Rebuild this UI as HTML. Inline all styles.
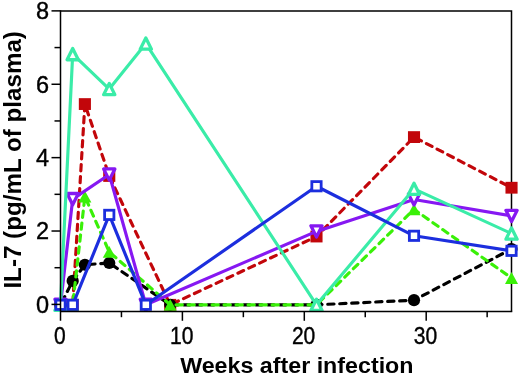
<!DOCTYPE html>
<html><head><meta charset="utf-8"><title>IL-7</title>
<style>html,body{margin:0;padding:0;background:#fff;}body{width:520px;height:377px;overflow:hidden;}svg{display:block;}svg{will-change:transform;}text{font-family:"Liberation Sans",sans-serif;fill:#000;}</style>
</head><body>
<svg width="520" height="377" viewBox="0 0 520 377">
<rect x="0" y="0" width="520" height="377" fill="#fff"/>
<path d="M60.5 10.9 H511.5 V311.5" stroke="#000" stroke-width="1.5" fill="none"/>
<g font-size="23.5" text-anchor="end" stroke="#000" stroke-width="0.4">
<text transform="translate(49.0,312.7) scale(1.0,1)">0</text>
<text transform="translate(49.0,239.32) scale(1.0,1)">2</text>
<text transform="translate(49.0,165.94) scale(1.0,1)">4</text>
<text transform="translate(49.0,92.56) scale(1.0,1)">6</text>
<text transform="translate(49.0,19.18) scale(1.0,1)">8</text>
</g>
<g font-size="23.4" text-anchor="middle" stroke="#000" stroke-width="0.4">
<text transform="translate(59.8,343.7) scale(0.9,1)">0</text>
<text transform="translate(181.7,343.7) scale(0.9,1)">10</text>
<text transform="translate(303.6,343.7) scale(0.9,1)">20</text>
<text transform="translate(425.5,343.7) scale(0.9,1)">30</text>
</g>
<text x="180.2" y="373.2" font-size="22.5" font-weight="bold" textLength="233.3" lengthAdjust="spacingAndGlyphs">Weeks after infection</text>
<text transform="translate(20.6,288.6) rotate(-90)" font-size="23.0" font-weight="bold" textLength="257.5" lengthAdjust="spacingAndGlyphs">IL-7 (pg/mL of plasma)</text>
<g><polyline points="60.5,304.8 72.69,304.8 84.88,104.07 109.26,175.98 170.21,304.8 316.49,236.52 414.01,137.09 511.53,187.73" fill="none" stroke="#C2060A" stroke-width="3.15" stroke-linejoin="round" stroke-dasharray="6.3 5.7" stroke-dashoffset="9.57" stroke-linecap="round"/>
<rect x="54.45" y="298.9" width="12.1" height="11.8" fill="#C2060A"/>
<rect x="66.64" y="298.9" width="12.1" height="11.8" fill="#C2060A"/>
<rect x="78.83" y="98.17" width="12.1" height="11.8" fill="#C2060A"/>
<rect x="103.21" y="170.08" width="12.1" height="11.8" fill="#C2060A"/>
<rect x="164.16" y="298.9" width="12.1" height="11.8" fill="#C2060A"/>
<rect x="310.44" y="230.62" width="12.1" height="11.8" fill="#C2060A"/>
<rect x="407.96" y="131.19" width="12.1" height="11.8" fill="#C2060A"/>
<rect x="505.48" y="181.83" width="12.1" height="11.8" fill="#C2060A"/>
</g>
<g><polyline points="60.5,304.8 72.69,280.92 84.88,264.77 109.26,262.94 170.21,304.8 316.49,304.8 414.01,300.18 511.53,249" fill="none" stroke="#000000" stroke-width="3.15" stroke-linejoin="round" stroke-dasharray="6.3 5.7" stroke-dashoffset="9.02" stroke-linecap="round"/>
<circle cx="60.5" cy="304.8" r="6.1" fill="#000000"/>
<circle cx="72.69" cy="280.92" r="6.1" fill="#000000"/>
<circle cx="84.88" cy="264.77" r="6.1" fill="#000000"/>
<circle cx="109.26" cy="262.94" r="6.1" fill="#000000"/>
<circle cx="170.21" cy="304.8" r="6.1" fill="#000000"/>
<circle cx="316.49" cy="304.8" r="6.1" fill="#000000"/>
<circle cx="414.01" cy="300.18" r="6.1" fill="#000000"/>
<circle cx="511.53" cy="249" r="6.1" fill="#000000"/>
</g>
<g><polyline points="60.5,304.8 72.69,304.8 84.88,196.53 109.26,251.93 170.21,304.8 316.49,304.8 414.01,209.37 511.53,277.98" fill="none" stroke="#3AF008" stroke-width="3.15" stroke-linejoin="round" stroke-dasharray="6.3 5.7" stroke-dashoffset="7.81" stroke-linecap="round"/>
<polygon points="60.5,298.9 67,310.7 54,310.7" fill="#3AF008"/>
<polygon points="72.69,298.9 79.19,310.7 66.19,310.7" fill="#3AF008"/>
<polygon points="84.88,190.63 91.38,202.43 78.38,202.43" fill="#3AF008"/>
<polygon points="109.26,246.03 115.76,257.83 102.76,257.83" fill="#3AF008"/>
<polygon points="170.21,298.9 176.71,310.7 163.71,310.7" fill="#3AF008"/>
<polygon points="316.49,298.9 322.99,310.7 309.99,310.7" fill="#3AF008"/>
<polygon points="414.01,203.47 420.51,215.27 407.51,215.27" fill="#3AF008"/>
<polygon points="511.53,272.08 518.03,283.88 505.03,283.88" fill="#3AF008"/>
</g>
<g><polyline points="60.5,304.8 72.69,199.1 109.26,174.52 145.83,304.8 316.49,231.39 414.01,199.47 511.53,215.98" fill="none" stroke="#8618F2" stroke-width="3.15" stroke-linejoin="round"/>
<polygon points="54.9,299.2 66.1,299.2 60.5,310.4" fill="#fff" stroke="#8618F2" stroke-width="3.3" stroke-linejoin="round"/>
<polygon points="67.09,193.5 78.29,193.5 72.69,204.7" fill="#fff" stroke="#8618F2" stroke-width="3.3" stroke-linejoin="round"/>
<polygon points="103.66,168.92 114.86,168.92 109.26,180.12" fill="#fff" stroke="#8618F2" stroke-width="3.3" stroke-linejoin="round"/>
<polygon points="140.23,299.2 151.43,299.2 145.83,310.4" fill="#fff" stroke="#8618F2" stroke-width="3.3" stroke-linejoin="round"/>
<polygon points="310.89,225.79 322.09,225.79 316.49,236.99" fill="#fff" stroke="#8618F2" stroke-width="3.3" stroke-linejoin="round"/>
<polygon points="408.41,193.87 419.61,193.87 414.01,205.07" fill="#fff" stroke="#8618F2" stroke-width="3.3" stroke-linejoin="round"/>
<polygon points="505.93,210.38 517.13,210.38 511.53,221.58" fill="#fff" stroke="#8618F2" stroke-width="3.3" stroke-linejoin="round"/>
</g>
<g><polyline points="60.5,304.8 72.69,54.17 109.26,89.03 145.83,43.53 316.49,304.8 414.01,188.83 511.53,233.59" fill="none" stroke="#3AECA8" stroke-width="3.15" stroke-linejoin="round"/>
<polygon points="60.5,299.2 66.1,310.4 54.9,310.4" fill="#fff" stroke="#3AECA8" stroke-width="3.3" stroke-linejoin="round"/>
<polygon points="72.69,48.57 78.29,59.77 67.09,59.77" fill="#fff" stroke="#3AECA8" stroke-width="3.3" stroke-linejoin="round"/>
<polygon points="109.26,83.43 114.86,94.63 103.66,94.63" fill="#fff" stroke="#3AECA8" stroke-width="3.3" stroke-linejoin="round"/>
<polygon points="145.83,37.93 151.43,49.13 140.23,49.13" fill="#fff" stroke="#3AECA8" stroke-width="3.3" stroke-linejoin="round"/>
<polygon points="316.49,299.2 322.09,310.4 310.89,310.4" fill="#fff" stroke="#3AECA8" stroke-width="3.3" stroke-linejoin="round"/>
<polygon points="414.01,183.23 419.61,194.43 408.41,194.43" fill="#fff" stroke="#3AECA8" stroke-width="3.3" stroke-linejoin="round"/>
<polygon points="511.53,227.99 517.13,239.19 505.93,239.19" fill="#fff" stroke="#3AECA8" stroke-width="3.3" stroke-linejoin="round"/>
</g>
<g><polyline points="60.5,304.8 72.69,304.8 109.26,214.88 145.83,304.8 316.49,186.26 414.01,235.79 511.53,250.83" fill="none" stroke="#1C2EDE" stroke-width="3.15" stroke-linejoin="round"/>
<rect x="54.45" y="298.75" width="12.1" height="12.1" fill="#1C2EDE"/><rect x="57.25" y="301.55" width="6.5" height="6.5" fill="#fff"/>
<rect x="66.64" y="298.75" width="12.1" height="12.1" fill="#1C2EDE"/><rect x="69.44" y="301.55" width="6.5" height="6.5" fill="#fff"/>
<rect x="103.21" y="208.83" width="12.1" height="12.1" fill="#1C2EDE"/><rect x="106.01" y="211.63" width="6.5" height="6.5" fill="#fff"/>
<rect x="139.78" y="298.75" width="12.1" height="12.1" fill="#1C2EDE"/><rect x="142.58" y="301.55" width="6.5" height="6.5" fill="#fff"/>
<rect x="310.44" y="180.21" width="12.1" height="12.1" fill="#1C2EDE"/><rect x="313.24" y="183.01" width="6.5" height="6.5" fill="#fff"/>
<rect x="407.96" y="229.74" width="12.1" height="12.1" fill="#1C2EDE"/><rect x="410.76" y="232.54" width="6.5" height="6.5" fill="#fff"/>
<rect x="505.48" y="244.78" width="12.1" height="12.1" fill="#1C2EDE"/><rect x="508.28" y="247.58" width="6.5" height="6.5" fill="#fff"/>
</g>
<g stroke="#000" stroke-width="1.5" fill="none" stroke-linecap="butt">
<path d="M60.5 10.15 V320.8 M59.75 311.5 H512.25"/>
<line x1="51.5" y1="304.4" x2="60.5" y2="304.4"/>
<line x1="54.5" y1="267.71" x2="60.5" y2="267.71"/>
<line x1="51.5" y1="231.02" x2="60.5" y2="231.02"/>
<line x1="54.5" y1="194.33" x2="60.5" y2="194.33"/>
<line x1="51.5" y1="157.64" x2="60.5" y2="157.64"/>
<line x1="54.5" y1="120.95" x2="60.5" y2="120.95"/>
<line x1="51.5" y1="84.26" x2="60.5" y2="84.26"/>
<line x1="54.5" y1="47.57" x2="60.5" y2="47.57"/>
<line x1="51.5" y1="10.88" x2="60.5" y2="10.88"/>
<line x1="121.45" y1="311.5" x2="121.45" y2="317.2"/>
<line x1="182.4" y1="311.5" x2="182.4" y2="320.8"/>
<line x1="243.35" y1="311.5" x2="243.35" y2="317.2"/>
<line x1="304.3" y1="311.5" x2="304.3" y2="320.8"/>
<line x1="365.25" y1="311.5" x2="365.25" y2="317.2"/>
<line x1="426.2" y1="311.5" x2="426.2" y2="320.8"/>
<line x1="487.15" y1="311.5" x2="487.15" y2="317.2"/>
</g>
</svg></body></html>
